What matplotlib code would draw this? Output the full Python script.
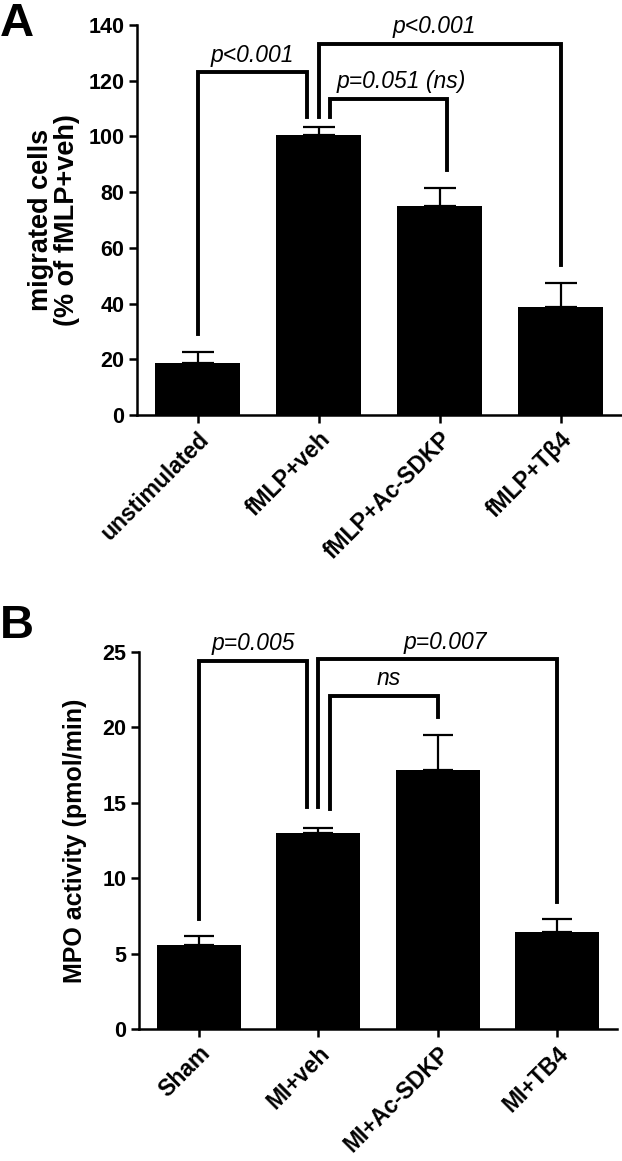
import matplotlib
matplotlib.use("Agg")
import matplotlib.pyplot as plt

plt.rcParams['font.family'] = ['Liberation Sans', 'DejaVu Sans']

# panel A: neutrophil migration
cats_a = ["unstimulated", "fMLP+veh", "fMLP+Ac-SDKP", "fMLP+Tβ4"]
vals_a = [18.7, 100.4, 75.1, 38.9]
errs_a = [3.9, 3.0, 6.5, 8.4]

# panel B: MPO activity
cats_b = ["Sham", "MI+veh", "MI+Ac-SDKP", "MI+TB4"]
vals_b = [5.6, 12.97, 17.18, 6.45]
errs_b = [0.57, 0.38, 2.32, 0.82]

# brackets: (x_left, x_right, y_top, y_left_end, y_right_end, label, text_dx)
brackets_a = [
    (0.0, 0.905, 123.0, 29.1, 107.0, "p<0.001", 0.0),
    (1.0, 3.0, 133.3, 107.0, 53.8, "p<0.001", -0.04),
    (1.095, 2.065, 113.5, 107.0, 88.0, "p=0.051 (ns)", 0.1),
]
brackets_b = [
    (0.0, 0.91, 24.4, 7.3, 14.7, "p=0.005", 0.0),
    (1.0, 3.0, 24.5, 14.7, 8.4, "p=0.007", 0.06),
    (1.1, 2.0, 22.1, 14.6, 20.7, "ns", 0.04),
]

W, H = 622, 1161
fig = plt.figure(figsize=(W / 100, H / 100), dpi=100)

ax_a = fig.add_axes([137 / W, 1 - 415 / H, 484 / W, 390 / H])
ax_b = fig.add_axes([139 / W, 1 - 1029.3 / H, 478 / W, 377.6 / H])


def style(ax, cats, vals, errs, ymax, step, brackets, text_off, capsize):
    x = range(len(cats))
    ax.bar(x, vals, width=0.7, color="black", zorder=2)
    ax.errorbar(x, vals, yerr=[[0] * len(errs), errs], fmt="none",
                ecolor="black", elinewidth=1.6, capsize=capsize,
                capthick=1.6, zorder=1)
    ax.set_xlim(-0.5, len(cats) - 0.5)
    ax.set_ylim(0, ymax)
    ax.set_yticks(range(0, ymax + 1, step))
    ax.set_xticks(list(x))
    ax.set_xticklabels(cats, rotation=45, ha="right", rotation_mode="anchor",
                       fontsize=16.5, fontweight="bold")
    for lab in ax.get_yticklabels():
        lab.set_fontsize(15.5)
        lab.set_fontweight("bold")
    for s in ["top", "right"]:
        ax.spines[s].set_visible(False)
    for s in ["left", "bottom"]:
        ax.spines[s].set_linewidth(1.8)
    ax.tick_params(axis="both", direction="out", length=6, width=1.8, pad=3)
    for x1, x2, yt, y1, y2, lab, dx in brackets:
        ax.plot([x1, x1, x2, x2], [y1, yt, yt, y2], color="black", lw=2.8,
                solid_joinstyle="miter", clip_on=False, zorder=3)
        ax.text((x1 + x2) / 2 + dx, yt + text_off, lab, ha="center",
                va="bottom", fontsize=16.5, fontstyle="italic", clip_on=False)


style(ax_a, cats_a, vals_a, errs_a, 140, 20, brackets_a, 2.0, 11.5)
style(ax_b, cats_b, vals_b, errs_b, 25, 5, brackets_b, 0.35, 10.5)

ax_a.set_ylabel("migrated cells\n(% of fMLP+veh)", fontsize=19.5,
                fontweight="bold", labelpad=6, linespacing=1.0)
ax_b.set_ylabel("MPO activity (pmol/min)", fontsize=18, fontweight="bold",
                labelpad=11)

fig.text(0.0, 1 - 2 / H, "A", fontsize=34, fontweight="bold", va="top",
         ha="left")
fig.text(0.0, 1 - 604 / H, "B", fontsize=34, fontweight="bold", va="top",
         ha="left")

fig.savefig("out.png", dpi=100)
